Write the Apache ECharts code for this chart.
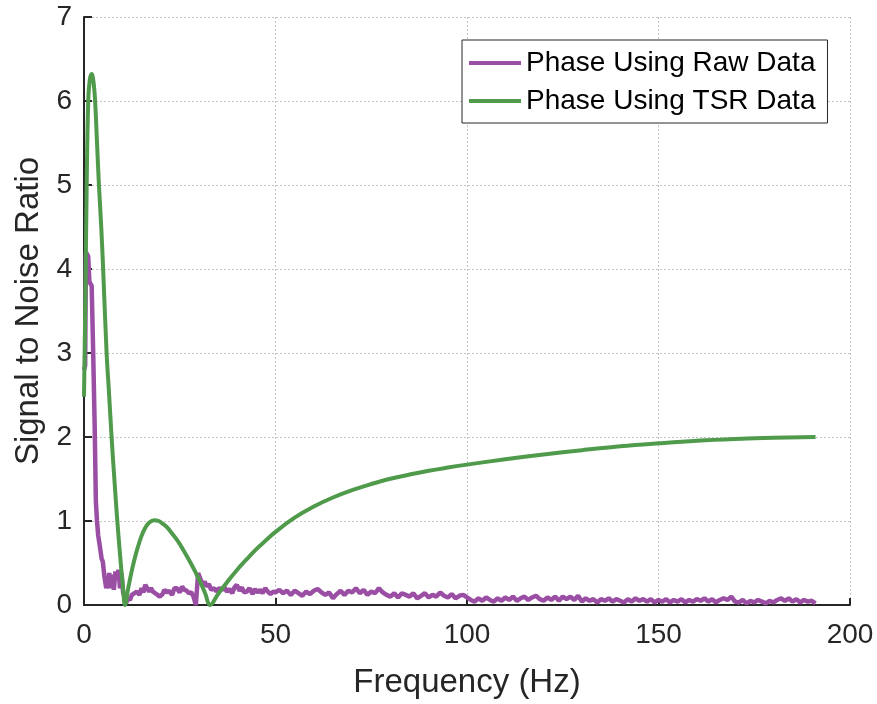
<!DOCTYPE html>
<html>
<head>
<meta charset="utf-8">
<script src="https://cdn.jsdelivr.net/npm/echarts@6/dist/echarts.min.js"></script>
<style>
html,body{margin:0;padding:0;background:#fff;}
#chart{width:877px;height:704px;}
</style>
</head>
<body>
<div id="chart"></div>
<script>
// ---- data ----
var xTicks = [0, 50, 100, 150, 200];
var yTicks = [0, 1, 2, 3, 4, 5, 6, 7];
var seriesNames = ['Phase Using Raw Data', 'Phase Using TSR Data'];

// TSR phase SNR (green)
var tsrFreq = [0, 0.25, 0.45, 0.7, 1.1, 1.5, 2.0, 2.5, 2.9, 3.4, 3.9, 4.5, 5.0, 5.9, 6.5, 7.2, 8.0, 8.7, 9.5, 10.2, 10.7,
  11.5, 12.3, 13.1, 14, 15, 16, 17, 18.3, 19.5, 20.5, 21.6, 23, 24.5, 26, 27.5, 29, 30.5, 31.7, 32.9,
  35, 37.5, 40, 42.5, 45, 47.5, 50, 55, 60, 65, 70, 75, 80, 85, 90, 95, 100, 110, 120, 130, 140, 150, 160, 170, 180, 191];
var tsrSnr = [2.48, 3.3, 4.0, 5.0, 6.0, 6.25, 6.32, 6.22, 6.0, 5.5, 5.0, 4.5, 4.0, 3.0, 2.55, 2.0, 1.45, 1.0, 0.55, 0.2, 0.0,
  0.19, 0.37, 0.53, 0.68, 0.82, 0.92, 0.98, 1.01, 1.0, 0.97, 0.93, 0.85, 0.76, 0.65, 0.53, 0.4, 0.26, 0.13, 0.0,
  0.13, 0.28, 0.42, 0.545, 0.665, 0.77, 0.87, 1.04, 1.173, 1.28, 1.368, 1.44, 1.503, 1.553, 1.598, 1.636, 1.671, 1.735, 1.792, 1.843, 1.889, 1.925, 1.956, 1.977, 1.991, 2.0];

// Raw phase SNR (purple): low-frequency part with irregular sampling
var rawFreqLow = [0, 0.3, 0.5, 1.1, 1.4, 2.0, 2.4, 2.8, 3.1, 3.4, 3.7, 4.2, 4.6, 4.9, 5.3, 5.8, 6.2, 6.6, 7.0, 7.4, 7.8, 8.2, 8.6, 9.0, 9.4, 9.8, 10.2, 10.6, 11.0, 11.4, 12,
  12.5, 13, 13.8, 14.5, 15, 15.5, 16, 16.4, 17, 17.5, 18, 18.6, 19.2, 19.8, 20.5, 21, 21.6, 22.2, 23, 23.6, 24.2, 25, 25.6, 26.2, 26.8, 27.4, 28, 28.6, 29.2, 29.5,
  29.8, 30.3, 31, 31.5, 32, 32.6, 33.2, 34, 34.6, 35.3, 36, 36.7, 37.3, 38, 38.7, 39.3, 39.9, 40.6, 41.2, 41.8, 42.5, 43.2, 44, 44.6, 45.3, 46, 46.6, 47.3, 48, 48.7, 49.4];
var rawSnrLow = [2.8, 2.85, 4.2, 4.15, 3.85, 3.8, 3.0, 2.1, 1.23, 1.0, 0.83, 0.68, 0.55, 0.52, 0.35, 0.2, 0.18, 0.38, 0.2, 0.36, 0.18, 0.4, 0.3, 0.42, 0.2, 0.38, 0.15, 0.1, 0.02, 0.08, 0.06,
  0.12, 0.1, 0.16, 0.12, 0.2, 0.15, 0.24, 0.22, 0.16, 0.2, 0.16, 0.14, 0.12, 0.1, 0.13, 0.18, 0.15, 0.17, 0.12, 0.2, 0.2, 0.15, 0.22, 0.18, 0.17, 0.14, 0.15, 0.1, 0.0, 0.02,
  0.38, 0.32, 0.24, 0.28, 0.22, 0.25, 0.18, 0.2, 0.16, 0.2, 0.18, 0.21, 0.16, 0.19, 0.14, 0.21, 0.24, 0.17, 0.21, 0.15, 0.16, 0.2, 0.13, 0.19, 0.15, 0.18, 0.14, 0.2, 0.16, 0.13, 0.16];
// Raw phase SNR tail: one value per Hz from 50 Hz to 191 Hz
var rawTailStartHz = 50;
var rawSnrTail = [0.15, 0.18, 0.14, 0.17, 0.12, 0.17, 0.14, 0.11, 0.16, 0.13,
  0.17, 0.19, 0.15, 0.12, 0.15, 0.08, 0.13, 0.17, 0.12, 0.17,
  0.15, 0.2, 0.14, 0.18, 0.12, 0.16, 0.14, 0.2, 0.15, 0.12,
  0.1, 0.14, 0.09, 0.14, 0.12, 0.1, 0.14, 0.08, 0.11, 0.14,
  0.09, 0.12, 0.1, 0.15, 0.11, 0.09, 0.13, 0.08, 0.11, 0.12,
  0.09, 0.06, 0.04, 0.08, 0.05, 0.09, 0.06, 0.04, 0.08, 0.05,
  0.09, 0.06, 0.1, 0.05, 0.08, 0.1, 0.06, 0.09, 0.11, 0.07,
  0.05, 0.09, 0.06, 0.1, 0.05, 0.1, 0.07, 0.1, 0.06, 0.11,
  0.04, 0.08, 0.05, 0.07, 0.03, 0.07, 0.05, 0.08, 0.04, 0.07,
  0.05, 0.03, 0.07, 0.04, 0.08, 0.05, 0.07, 0.04, 0.07, 0.03,
  0.06, 0.04, 0.07, 0.03, 0.06, 0.04, 0.07, 0.03, 0.06, 0.04,
  0.07, 0.05, 0.08, 0.04, 0.07, 0.03, 0.06, 0.08, 0.06, 0.1,
  0.04, 0.03, 0.06, 0.02, 0.05, 0.03, 0.06, 0.04, 0.02, 0.05,
  0.03, 0.06, 0.08, 0.05, 0.08, 0.04, 0.07, 0.03, 0.06, 0.04,
  0.05, 0.02];

// ---- build series data ----
function pairs(xs, ys) { return xs.map(function (x, i) { return [x, ys[i]]; }); }
var rawData = pairs(rawFreqLow, rawSnrLow).concat(
  rawSnrTail.map(function (v, i) { return [rawTailStartHz + i, v]; }));
var tsrData = pairs(tsrFreq, tsrSnr);

var FONT = 'Liberation Sans, Arial, sans-serif';
var TXT = '#262626';
var AX = '#262626';
var GRIDC = '#c4c4c4';

var chart = echarts.init(document.getElementById('chart'), null, {renderer: 'canvas'});
chart.setOption({
  animation: false,
  backgroundColor: '#ffffff',
  textStyle: {fontFamily: FONT},
  grid: {left: 84, right: 27, top: 17, bottom: 97, containLabel: false},
  legend: {
    orient: 'vertical',
    left: 462, top: 40,
    data: seriesNames,
    icon: 'rect',
    itemWidth: 52, itemHeight: 4,
    itemGap: 10,
    padding: [9, 12, 8, 7],
    borderColor: '#262626', borderWidth: 1,
    backgroundColor: '#ffffff',
    textStyle: {fontFamily: FONT, fontSize: 28, color: '#000', lineHeight: 28}
  },
  xAxis: {
    type: 'value', min: xTicks[0], max: xTicks[xTicks.length - 1], interval: 50,
    name: 'Frequency (Hz)', nameLocation: 'middle', nameGap: 61,
    nameTextStyle: {fontFamily: FONT, fontSize: 33, color: TXT, verticalAlign: 'top'},
    axisLine: {show: true, onZero: false, lineStyle: {color: AX, width: 2}},
    axisTick: {show: true, inside: true, length: 7, lineStyle: {color: AX, width: 2}},
    axisLabel: {fontFamily: FONT, fontSize: 28, color: TXT, margin: 16},
    splitLine: {show: true, lineStyle: {color: GRIDC, width: 1, type: [2, 2]}}
  },
  yAxis: {
    type: 'value', min: yTicks[0], max: yTicks[yTicks.length - 1], interval: 1,
    name: 'Signal to Noise Ratio', nameLocation: 'middle', nameGap: 38,
    nameTextStyle: {fontFamily: FONT, fontSize: 33, color: TXT},
    axisLine: {show: true, onZero: false, lineStyle: {color: AX, width: 2}},
    axisTick: {show: true, inside: true, length: 8, lineStyle: {color: AX, width: 2}},
    axisLabel: {fontFamily: FONT, fontSize: 28, color: TXT, margin: 12},
    splitLine: {show: true, lineStyle: {color: GRIDC, width: 1, type: [2, 2]}}
  },
  series: [
    {
      name: seriesNames[0], type: 'line', data: rawData,
      showSymbol: false, symbol: 'none', clip: true,
      lineStyle: {color: '#9a4ea4', width: 4.5},
      itemStyle: {color: '#9a4ea4'},
      z: 2
    },
    {
      name: seriesNames[1], type: 'line', data: tsrData, smooth: 0.4,
      showSymbol: false, symbol: 'none', clip: true,
      lineStyle: {color: '#4f9b4b', width: 4},
      itemStyle: {color: '#4f9b4b'},
      z: 3
    }
  ]
});
</script>
</body>
</html>
